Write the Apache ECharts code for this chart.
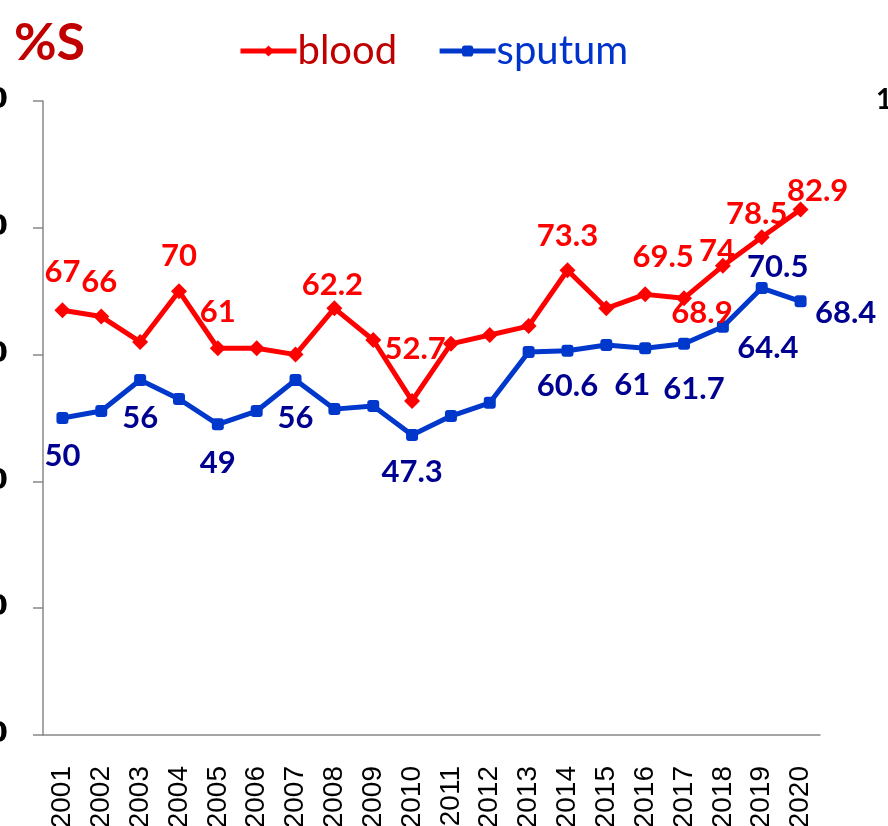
<!DOCTYPE html>
<html>
<head>
<meta charset="utf-8">
<script src="https://cdn.jsdelivr.net/npm/echarts@6/dist/echarts.min.js"></script>
<style>
  html, body { margin: 0; padding: 0; background: #fff; }
  #chart { width: 888px; height: 826px; }
</style>
</head>
<body>
<div id="chart"></div>
<script>
// years on the x axis
const years = ['2001', '2002', '2003', '2004', '2005', '2006', '2007', '2008', '2009', '2010',
  '2011', '2012', '2013', '2014', '2015', '2016', '2017', '2018', '2019', '2020']

// % susceptible
const blood = [67, 66, 62, 70, 61, 61, 60, 67.3, 62.3, 52.7, 61.7, 63.1, 64.5, 73.3, 67.3, 69.5, 68.9, 74, 78.5, 82.9]
const sputum = [50, 51.1, 56, 53, 49, 51.1, 56, 51.4, 51.9, 47.3, 50.3, 52.4, 60.4, 60.6, 61.5, 61, 61.7, 64.4, 70.5, 68.4]

// label texts as printed ('' = no label)
const bloodLabels = ['67', '66', '', '70', '61', '', '', '62.2', '', '52.7', '', '', '', '73.3', '', '69.5', '68.9', '74', '78.5', '82.9']
const sputumLabels = ['50', '', '56', '', '49', '', '56', '', '', '47.3', '', '', '', '60.6', '', '61', '61.7', '64.4', '70.5', '68.4']

const yTicks = [0, 20, 40, 60, 80, 100]

// label offsets from the point centre
const bloodOffsets = [[0, -38], [-2, -35], null, [0, -35], [0, -36], null, null, [-2, -23], null, [3, -52],
  null, null, null, [0, -34], null, [18, -37], [18, 15], [-6, -15], [-5, -23], [17, -18]]
const sputumOffsets = [[0, 38], null, [0, 38], null, [0, 39], null, [0, 38], null, null, [0, 37],
  null, null, null, [0, 35], null, [-13, 37], [10, 45], [45, 21], [16, -21], [45, 12]]

function buildData (values, labels, offsets) {
  return values.map((v, i) => {
    if (!labels[i]) return { value: v, label: { show: false } }
    return {
      value: v,
      label: { show: true, formatter: labels[i], offset: offsets[i] }
    }
  })
}

const chart = echarts.init(document.getElementById('chart'))

const labelFont = {
  fontFamily: 'Lato',
  fontWeight: 'bold',
  fontSize: 31,
  position: 'inside',
  align: 'center',
  verticalAlign: 'middle'
}

chart.setOption({
  animation: false,
  backgroundColor: '#fff',
  title: {
    text: '%S',
    left: 9,
    top: 12,
    textStyle: { color: '#c00000', fontSize: 52, fontWeight: 'bold', fontFamily: 'Lato' }
  },
  legend: {
    top: 26,
    left: 233,
    itemWidth: 56,
    itemHeight: 14,
    itemGap: 40,
    lineStyle: { width: 5 },
    data: [
      { name: 'blood', textStyle: { color: '#c00000' } },
      { name: 'sputum', textStyle: { color: '#0033cc' } }
    ],
    textStyle: { fontSize: 40, fontFamily: 'Lato', padding: [0, 0, 0, -4] }
  },
  graphic: [
    {
      type: 'text',
      left: 876,
      top: 86,
      style: { text: '100', fill: '#000', font: 'bold 28px Lato' }
    }
  ],
  grid: { left: 43, right: 68, top: 101, bottom: 91, containLabel: false, outerBoundsMode: 'none' },
  xAxis: {
    type: 'category',
    data: years,
    boundaryGap: true,
    axisLine: { lineStyle: { color: '#888', width: 1.5 } },
    axisTick: { length: 13, lineStyle: { color: '#888', width: 1.5 } },
    axisLabel: {
      rotate: 90,
      margin: 31,
      color: '#000',
      fontSize: 28,
      fontFamily: 'Liberation Sans',
      interval: 0,
      hideOverlap: false
    }
  },
  yAxis: {
    type: 'value',
    min: yTicks[0],
    max: yTicks[yTicks.length - 1],
    interval: 20,
    splitLine: { show: false },
    axisLine: { show: true, lineStyle: { color: '#888', width: 1.5 } },
    axisTick: { show: true, length: 10, lineStyle: { color: '#888', width: 1.5 } },
    axisLabel: {
      margin: 35,
      color: '#000',
      fontSize: 28,
      fontWeight: 'bold',
      fontFamily: 'DejaVu Sans'
    }
  },
  series: [
    {
      name: 'blood',
      type: 'line',
      data: buildData(blood, bloodLabels, bloodOffsets),
      symbol: 'diamond',
      symbolSize: 16,
      lineStyle: { color: '#ff0000', width: 5 },
      itemStyle: { color: '#ff0000' },
      label: Object.assign({ color: '#ff0000' }, labelFont),
      z: 3
    },
    {
      name: 'sputum',
      type: 'line',
      data: buildData(sputum, sputumLabels, sputumOffsets),
      symbol: 'roundRect',
      symbolSize: 12,
      lineStyle: { color: '#0038cc', width: 5 },
      itemStyle: { color: '#0038cc' },
      label: Object.assign({ color: '#000090' }, labelFont),
      z: 2
    }
  ]
})
</script>
</body>
</html>
